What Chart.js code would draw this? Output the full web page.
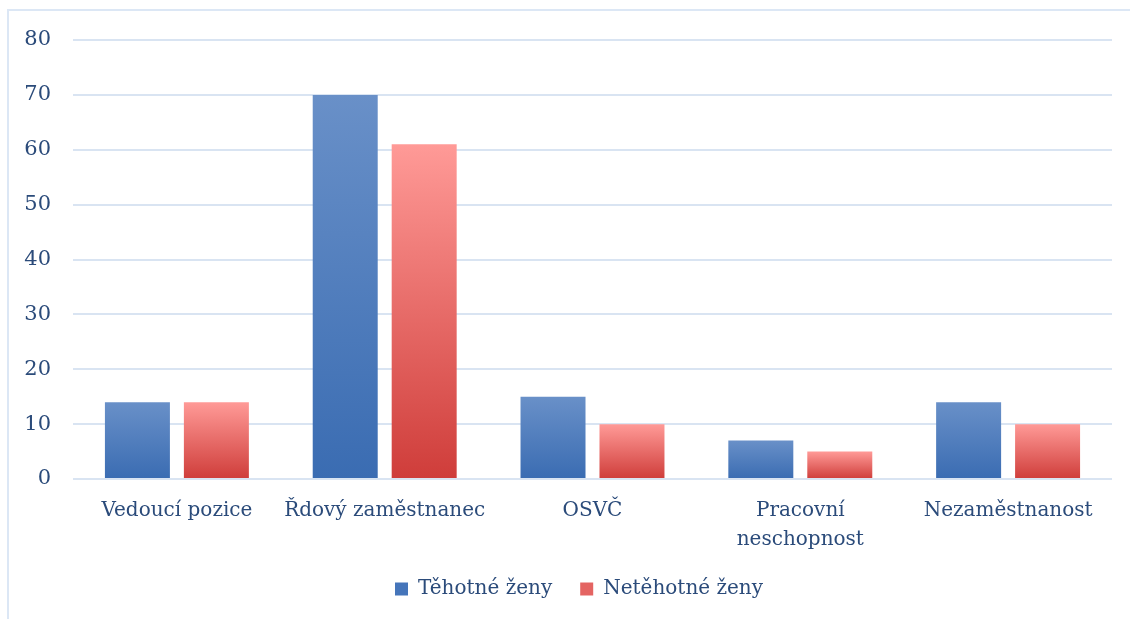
<!DOCTYPE html>
<html>
<head>
<meta charset="utf-8">
<script src="https://cdn.jsdelivr.net/npm/chart.js@4"></script>
<style>
  html, body { margin: 0; padding: 0; background: #fff; }
  #wrap { position: relative; width: 1130px; height: 619px; overflow: hidden; }
  #frame { position: absolute; left: 7px; top: 9px; width: 1200px; height: 700px;
           border-left: 2px solid #dce7f5; border-top: 2px solid #dce7f5; }
  #chart { position: absolute; left: 0; top: 0; }
</style>
</head>
<body>
<div id="wrap">
  <div id="frame"></div>
  <canvas id="chart" width="1130" height="619"></canvas>
</div>
<script>
const categories = ['Vedoucí pozice', 'Řdový zaměstnanec', 'OSVČ', ['Pracovní', 'neschopnost'], 'Nezaměstnanost']
const seriesNames = ['Těhotné ženy', 'Netěhotné ženy']
const pregnant = [14, 70, 15, 7, 14]
const notPregnant = [14, 61, 10, 5, 10]
const yTicks = [0, 10, 20, 30, 40, 50, 60, 70, 80]

const textColor = '#2b4b7a'
const fontFamily = '"DejaVu Serif", serif'

// gradient from the top of every bar to its base
function barGradient(top, bottom){
    return function (ctx){
        const chart = ctx.chart
        if(!chart.chartArea || ctx.type !== 'data') return bottom
        const y = chart.scales.y
        const yTop = y.getPixelForValue(ctx.parsed.y)
        const yBase = y.getPixelForValue(0)
        const g = chart.ctx.createLinearGradient(0, yTop, 0, yBase)
        g.addColorStop(0, top)
        g.addColorStop(1, bottom)
        return g
    }
}

// legend in the original sits a bit right of the canvas centre
const legendShift = {
    id: 'legendShift',
    afterLayout: function (chart){
        if(chart.legend){
            chart.legend.left += 23
            chart.legend.right += 23
        }
    }
}

new Chart(document.getElementById('chart').getContext('2d'), {
    type: 'bar',
    data: {
        labels: categories,
        datasets: [{
            label: seriesNames[0],
            data: pregnant,
            backgroundColor: barGradient('#6990c8', '#3a6cb2'),
            categoryPercentage: 0.76,
            barPercentage: 0.823
        }, {
            label: seriesNames[1],
            data: notPregnant,
            backgroundColor: barGradient('#ff9a97', '#cf3d3a'),
            categoryPercentage: 0.76,
            barPercentage: 0.823
        }]
    },
    plugins: [legendShift],
    options: {
        responsive: false,
        animation: false,
        layout: { padding: { top: 40, left: 0, right: 18, bottom: 10 } },
        scales: {
            x: {
                grid: { display: false },
                border: { display: false },
                ticks: {
                    color: textColor,
                    font: { family: fontFamily, size: 20, lineHeight: 1.45 },
                    padding: 9,
                    maxRotation: 0,
                    autoSkip: false
                },
                afterFit: function (scale){ scale.height = 72 }
            },
            y: {
                min: 0,
                max: 80,
                afterBuildTicks: function (scale){
                    scale.ticks = yTicks.map(v => ({ value: v }))
                },
                grid: { color: '#d9e4f2', lineWidth: 2, drawTicks: false },
                border: { display: false },
                ticks: {
                    color: textColor,
                    font: { family: fontFamily, size: 21 },
                    padding: 22
                },
                afterFit: function (scale){ scale.width = 73 }
            }
        },
        plugins: {
            tooltip: { enabled: false },
            legend: {
                position: 'bottom',
                labels: {
                    color: textColor,
                    font: { family: fontFamily, size: 20 },
                    boxWidth: 13,
                    boxHeight: 13,
                    padding: 28,
                    generateLabels: function (chart){
                        const fills = ['#4575ba', '#e46462']
                        return chart.data.datasets.map((ds, i) => ({
                            text: ds.label,
                            fillStyle: fills[i],
                            strokeStyle: fills[i],
                            lineWidth: 0,
                            fontColor: textColor,
                            datasetIndex: i
                        }))
                    }
                }
            }
        }
    }
})
</script>
</body>
</html>
